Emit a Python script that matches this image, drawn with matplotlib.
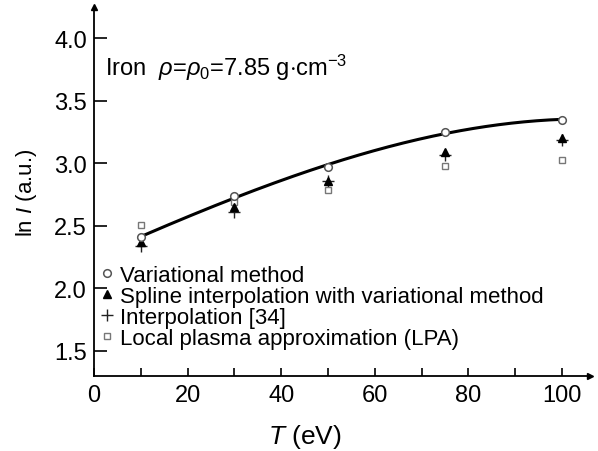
import numpy as np
import matplotlib.pyplot as plt

plt.rcParams['font.family'] = ['Liberation Sans', 'DejaVu Sans']
plt.rcParams['mathtext.fontset'] = 'custom'
plt.rcParams['mathtext.rm'] = 'Liberation Sans'
plt.rcParams['mathtext.it'] = 'Liberation Sans:italic'

# data
T = [10, 30, 50, 75, 100]
variational = [2.41, 2.74, 2.97, 3.25, 3.35]
spline = [2.37, 2.65, 2.86, 3.09, 3.20]
interp34 = [2.34, 2.61, 2.86, 3.07, 3.19]
lpa = [2.51, 2.69, 2.79, 2.98, 3.03]

fig = plt.figure(figsize=(5.98, 4.52), dpi=100)
ax = fig.add_axes([0.157, 0.166, 0.83, 0.816])

# smooth curve through the variational points
c = np.polyfit(T, variational, 3)
tt = np.linspace(T[0], T[-1], 200)
ax.plot(tt, np.polyval(c, tt), color='black', lw=2.2, zorder=2)

ax.plot(T, interp34, '+', color='#222222', ms=8, mew=1.0, ls='none',
        label='Interpolation [34]', zorder=3)
ax.plot(T, lpa, 's', mfc='white', mec='#777777', ms=5, mew=1.0, ls='none',
        label='Local plasma approximation (LPA)', zorder=3)
ax.plot(T, spline, '^', color='black', ms=6, ls='none',
        label='Spline interpolation with variational method', zorder=4)
ax.plot(T, variational, 'o', mfc='white', mec='#555555', ms=5.5, mew=1.1, ls='none',
        label='Variational method', zorder=5)

handles, labels = ax.get_legend_handles_labels()
order = [3, 2, 0, 1]
ax.legend([handles[i] for i in order], [labels[i] for i in order],
          loc='upper left', bbox_to_anchor=(-0.005, 0.325), frameon=False,
          fontsize=16, handlelength=0.6, handletextpad=0.3,
          labelspacing=0.0, borderaxespad=0)

ax.text(2.3, 3.77, r'Iron  $\it{\rho}$=$\it{\rho}_{0}$=7.85 g$\cdot$cm$^{-3}$',
        fontsize=17, va='center')

ax.set_xlim(0, 106)
ax.set_ylim(1.3, 4.25)
ax.set_xticks([0, 20, 40, 60, 80, 100])
ax.set_xticks(range(10, 100, 20), minor=True)
ax.set_yticks([1.5, 2.0, 2.5, 3.0, 3.5, 4.0])
ax.set_yticklabels(['1.5', '2.0', '2.5', '3.0', '3.5', '4.0'])
ax.tick_params(axis='x', which='both', direction='in', length=6, width=1.2,
               labelsize=17, pad=6)
ax.tick_params(axis='y', direction='in', length=9.5, width=1.2, labelsize=17, pad=5)

for s in ['top', 'right']:
    ax.spines[s].set_visible(False)
for s in ['left', 'bottom']:
    ax.spines[s].set_linewidth(1.3)
ax.plot(1, 0, '>k', ms=5, transform=ax.transAxes, clip_on=False)
ax.plot(0, 1, '^k', ms=5, transform=ax.transAxes, clip_on=False)

ax.set_xlabel(r'$\it{T}$ (eV)', fontsize=19)
ax.xaxis.set_label_coords(0.425, -0.125)
ax.set_ylabel(r'ln $\it{I}$ (a.u.)', fontsize=16)
ax.yaxis.set_label_coords(-0.11, 0.5)

fig.savefig('out.png', dpi=100)
